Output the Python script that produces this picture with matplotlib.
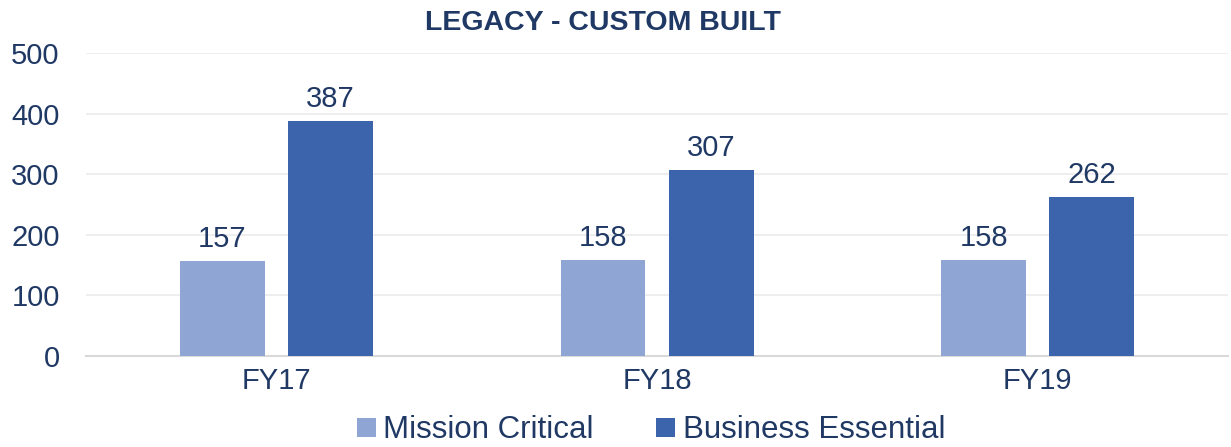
import numpy as np
import matplotlib
matplotlib.use('Agg')
import matplotlib.pyplot as plt

plt.rcParams['font.family'] = ['Liberation Sans', 'DejaVu Sans']

# Données
categories = ['FY17', 'FY18', 'FY19']
mission_critical = [157, 158, 158]
business_essential = [387, 307, 262]
series_names = ['Mission Critical', 'Business Essential']

text_col = '#1F3864'
light_col = '#8FA5D4'
dark_col = '#3C64AC'

fig = plt.figure(figsize=(12.31, 4.47), dpi=100)
ax = fig.add_axes([0.0699, 0.2036, 0.9277, 0.6778])

x = np.arange(len(categories))
w = 0.223
off = 0.142
b1 = ax.bar(x - off, mission_critical, w, color=light_col, label=series_names[0], zorder=3)
b2 = ax.bar(x + off, business_essential, w, color=dark_col, label=series_names[1], zorder=3)

for bars in (b1, b2):
    ax.bar_label(bars, padding=6, fontsize=21, color=text_col)

ax.set_xlim(-0.5, 2.5)
ax.set_ylim(0, 500)
ax.set_yticks(range(0, 501, 100))
ax.set_xticks(x)
ax.set_xticklabels(categories)
ax.tick_params(axis='both', length=0, labelsize=21, labelcolor=text_col)
ax.tick_params(axis='y', pad=19)
ax.tick_params(axis='x', pad=8)
ax.grid(axis='y', color='#EDEDED', linewidth=1.3, zorder=0)
for s in ['top', 'right', 'left']:
    ax.spines[s].set_visible(False)
ax.spines['bottom'].set_color('#D9D9D9')
ax.spines['bottom'].set_linewidth(1.5)

fig.text(0.49, 0.948, 'LEGACY - CUSTOM BUILT', ha='center', va='center',
         fontsize=20.5, fontweight='bold', color=text_col)

fig.legend(loc='center', bbox_to_anchor=(0.529, 0.037), ncol=2, frameon=False,
           fontsize=22.5, labelcolor=text_col, handlelength=0.6, handleheight=0.6,
           handletextpad=0.25, columnspacing=2.0, borderpad=0.1)

plt.savefig('out.png', dpi=100)
